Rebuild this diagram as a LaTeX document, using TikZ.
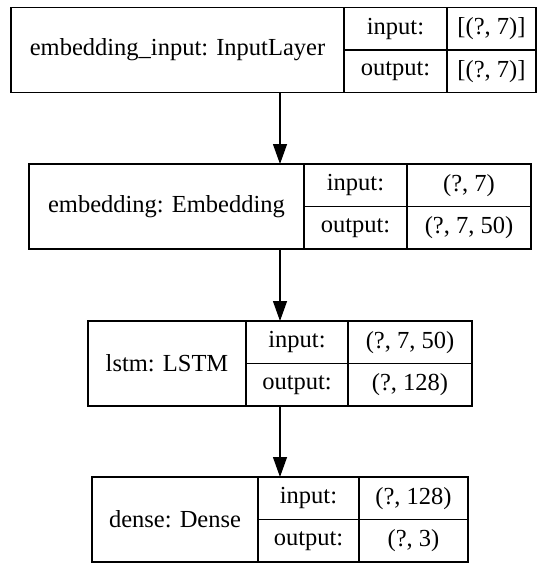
\documentclass[tikz,border=0pt]{standalone}
\usepackage{fontspec}
\setmainfont{Liberation Serif}
\usetikzlibrary{arrows.meta}
\tikzset{
  frame/.style={draw=black, line width=1.3pt, inner sep=0pt, outer sep=0pt},
  cell/.style={draw=black, line width=1.3pt, inner sep=0pt, outer sep=0pt,
    font=\fontsize{24.5pt}{29pt}\selectfont, text=black},
  arr/.style={draw=black, line width=1.3pt, -{Triangle[length=20pt, width=14pt]}}
}
% #1 name, #2 left, #3 top, #4 divider 1, #5 divider 2, #6 right, #7 label, #8 input, #9 output
\newcommand\kbox[9]{%
  \node[frame, minimum width={(#6-#2)*1pt}, minimum height=85pt] (#1) at ({(#2+#6)/2},{#3+42.5}) {};
  \node[cell, minimum width={(#4-#2)*1pt}, minimum height=85pt] (#1-name) at ({(#2+#4)/2},{#3+42.5}) {#7};
  \node[cell, minimum width={(#5-#4)*1pt}, minimum height=42.5pt] (#1-inl) at ({(#4+#5)/2},{#3+21.25}) {input:};
  \node[cell, minimum width={(#5-#4)*1pt}, minimum height=42.5pt] (#1-outl) at ({(#4+#5)/2},{#3+63.75}) {output:};
  \node[cell, minimum width={(#6-#5)*1pt}, minimum height=42.5pt] (#1-inv) at ({(#5+#6)/2},{#3+21.25}) {#8};
  \node[cell, minimum width={(#6-#5)*1pt}, minimum height=42.5pt] (#1-outv) at ({(#5+#6)/2},{#3+63.75}) {#9};
}
\begin{document}
\begin{tikzpicture}[x=1pt, y=-1pt]
  \useasboundingbox (0,0) rectangle (539,563);
  \kbox{b1}{11}{7.5}{344}{447}{536}{embedding\_input: InputLayer}{[(?, 7)]}{[(?, 7)]}
  \kbox{b2}{29}{164}{304}{407}{531}{embedding: Embedding}{(?, 7)}{(?, 7, 50)}
  \kbox{b3}{88}{321}{246}{348}{472}{lstm: LSTM}{(?, 7, 50)}{(?, 128)}
  \kbox{b4}{92}{477}{258}{359}{468}{dense: Dense}{(?, 128)}{(?, 3)}
  \draw[arr] (b1.south -| b2.north) -- (b2.north);
  \draw[arr] (b2.south) -- (b3.north);
  \draw[arr] (b3.south) -- (b4.north);
\end{tikzpicture}
\end{document}
